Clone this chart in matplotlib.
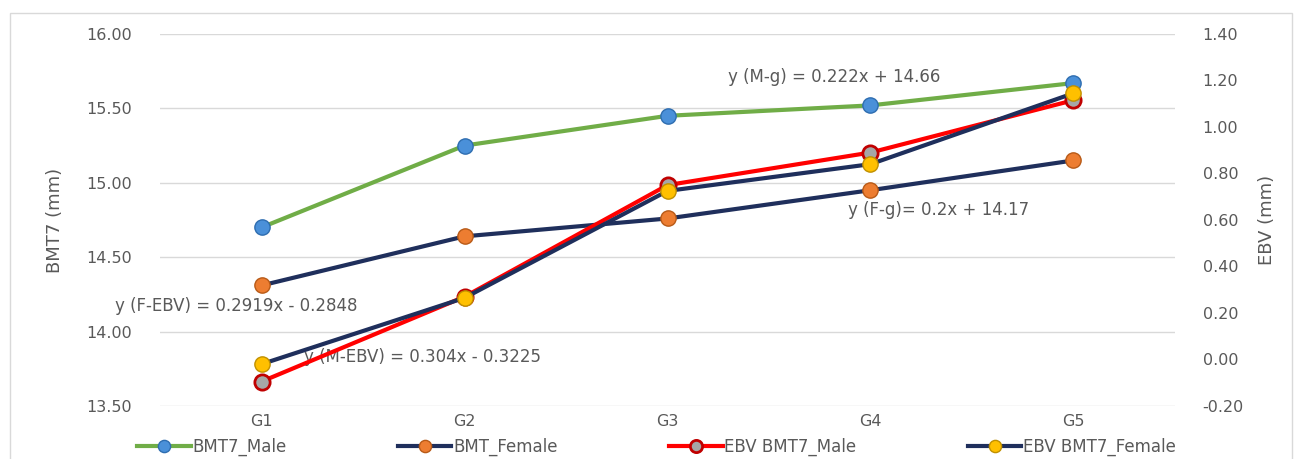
import numpy as np
import matplotlib.pyplot as plt

# data
generations = ["G1", "G2", "G3", "G4", "G5"]
bmt7_male = [14.70, 15.25, 15.45, 15.52, 15.67]
bmt_female = [14.31, 14.64, 14.76, 14.95, 15.15]
ebv_male = [-0.095, 0.27, 0.75, 0.89, 1.115]
ebv_female = [-0.02, 0.265, 0.725, 0.84, 1.145]

GRAY = "#595959"
x = np.arange(len(generations))

fig = plt.figure(figsize=(12.95, 4.59), dpi=100)
ax = fig.add_axes([0.1236, 0.1155, 0.7837, 0.8105])
ax2 = ax.twinx()

ax.plot(x, bmt7_male, color="#70AD47", lw=3, marker="o", ms=11,
        mfc="#4A90D9", mec="#2E6DB0", mew=1, label="BMT7_Male", zorder=3)
ax.plot(x, bmt_female, color="#1F2F5C", lw=3, marker="o", ms=11,
        mfc="#ED7D31", mec="#B85A17", mew=1, label="BMT_Female", zorder=3)
ax2.plot(x, ebv_male, color="#FF0000", lw=3, marker="o", ms=11,
         mfc="#A6A6A6", mec="#C00000", mew=2, label="EBV BMT7_Male", zorder=3)
ax2.plot(x, ebv_female, color="#1F2F5C", lw=3, marker="o", ms=11,
         mfc="#FFC000", mec="#C09000", mew=1, label="EBV BMT7_Female", zorder=3)

ax.set_xlim(-0.5, 4.5)
ax.set_ylim(13.5, 16.0)
ax.set_yticks(np.arange(13.5, 16.01, 0.5))
ax.set_yticklabels([f"{v:.2f}" for v in np.arange(13.5, 16.01, 0.5)])
ax2.set_ylim(-0.2, 1.4)
ax2.set_yticks(np.arange(-0.2, 1.41, 0.2))
ax2.set_yticklabels([f"{v:.2f}" if abs(v) > 1e-9 else "0.00"
                     for v in np.arange(-0.2, 1.41, 0.2)])
ax.set_xticks(x)
ax.set_xticklabels(generations)

ax.grid(axis="y", color="#D9D9D9", lw=1)
ax.set_axisbelow(True)
for a in (ax, ax2):
    for s in a.spines.values():
        s.set_visible(False)
    a.tick_params(length=0, colors=GRAY, labelsize=11.5)
ax.tick_params(axis="y", pad=20)
ax2.tick_params(axis="y", pad=20)
ax.tick_params(axis="x", pad=6)

lab_font = dict(fontsize=13, color=GRAY)
ax.set_ylabel("BMT7 (mm)", labelpad=16, **lab_font)
ax2.set_ylabel("EBV (mm)", labelpad=10, **lab_font)

# trendline equations
tk = dict(fontsize=12, color=GRAY, va="center", zorder=1)
ax.text(2.30, 15.71, "y (M-g) = 0.222x + 14.66", **tk)
ax.text(2.89, 14.82, "y (F-g)= 0.2x + 14.17", **tk)
ax.text(-0.72, 14.17, "y (F-EBV) = 0.2919x - 0.2848", clip_on=False, **tk)
ax.text(0.21, 13.83, "y (M-EBV) = 0.304x - 0.3225", **tk)

h1, l1 = ax.get_legend_handles_labels()
h2, l2 = ax2.get_legend_handles_labels()
fig.legend(h1 + h2, l1 + l2, loc="center", bbox_to_anchor=(0.507, 0.026),
           ncol=4, frameon=False, fontsize=12, labelcolor=GRAY,
           handlelength=3.2, handletextpad=0.1, columnspacing=6.7, markerscale=0.8)

# outer chart border
fig.patches.append(plt.Rectangle((0.008, -0.01), 0.99, 0.982, transform=fig.transFigure,
                                 fill=False, ec="#D9D9D9", lw=1))

fig.savefig("out.png", dpi=100)
